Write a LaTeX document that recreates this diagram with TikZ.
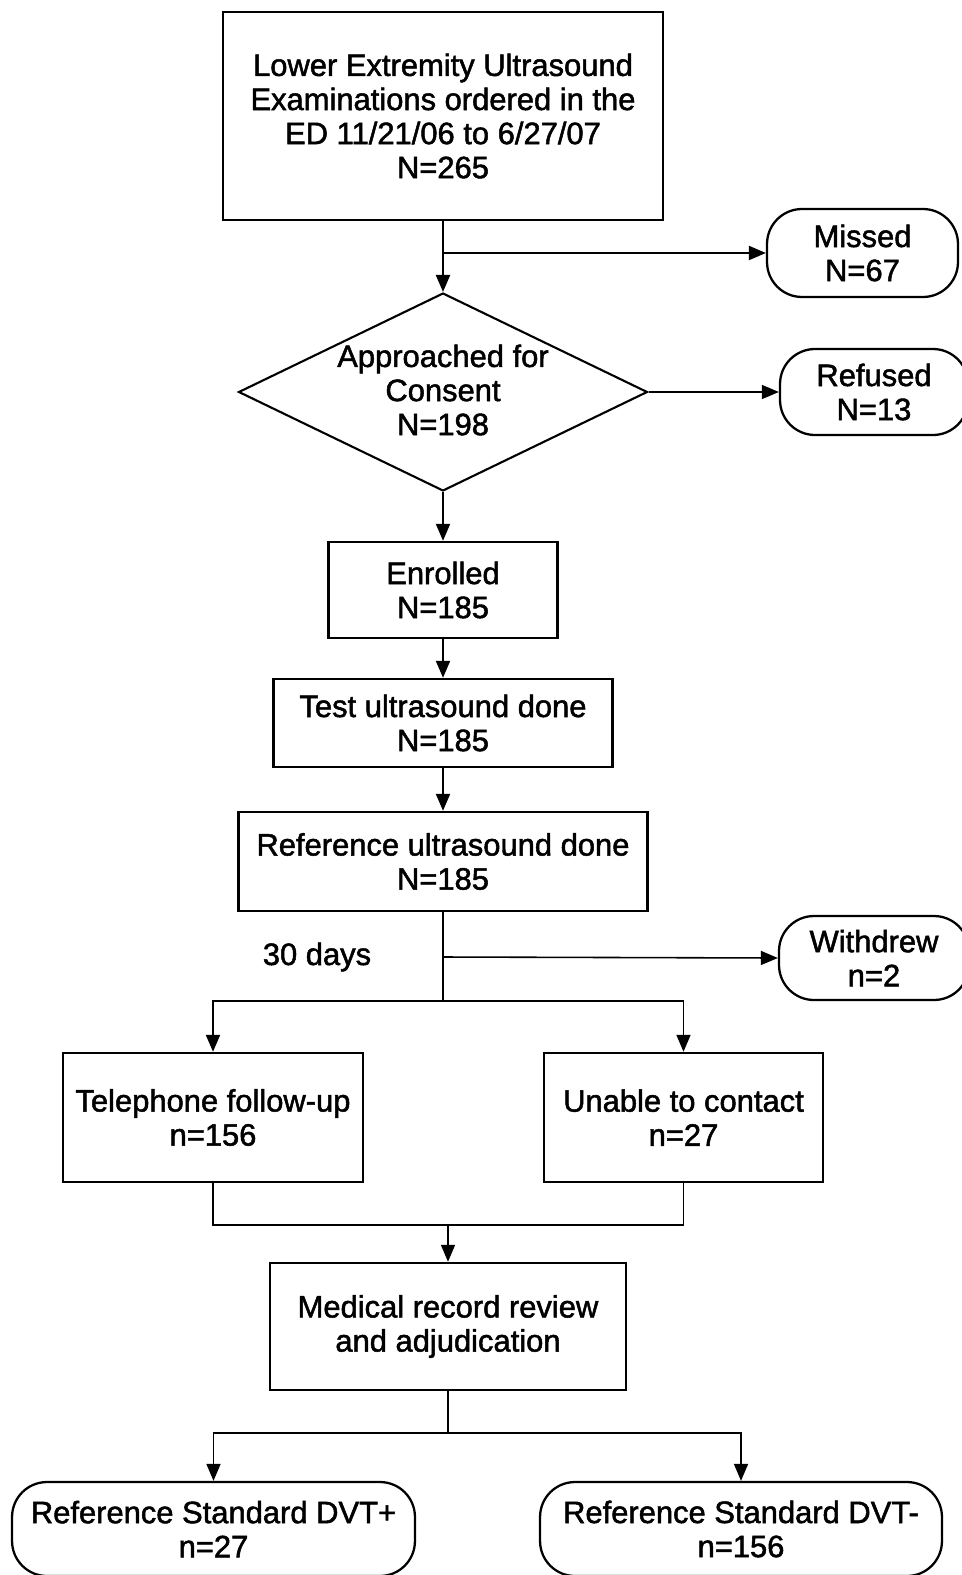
\documentclass[tikz,border=0pt]{standalone}
\usepackage{fontspec}
\setmainfont{Liberation Sans}[BoldFont=Liberation Sans, BoldFeatures={FakeBold=1.6}]
\usetikzlibrary{shapes.geometric,arrows.meta}
\begin{document}
\begin{tikzpicture}[x=0.02cm,y=-0.02cm,
  every node/.style={font=\fontsize{17.6pt}{19.4pt}\selectfont\bfseries, align=center, inner sep=0pt},
  box/.style={draw, line width=1.4pt, rectangle},
  rbox/.style={draw, line width=1.3pt, rectangle, rounded corners=0.7cm},
  conn/.style={line width=1.2pt},
  thinconn/.style={line width=0.9pt},
  tip/.style={-{Triangle[length=0.34cm,width=0.28cm]}},
  ]
\useasboundingbox (0,0) rectangle (962,1575);
\fill[white] (0,0) rectangle (962,1575);

\node[box, minimum width=8.8cm, minimum height=4.16cm] (b1) at (443,116)
  {Lower Extremity Ultrasound\\Examinations ordered in the\\ED 11/21/06 to 6/27/07\\N=265};
\node[rbox, minimum width=3.82cm, minimum height=1.76cm] (missed) at (862.5,253) {Missed\\N=67};
\node[draw, diamond, line width=1.2pt, minimum width=8.18cm, minimum height=3.96cm] (d) at (443,392) {};
\node (dtext) at (443,390) {Approached for\\Consent\\N=198};
\node[rbox, minimum width=3.76cm, minimum height=1.72cm] (refused) at (874,392) {Refused\\N=13};
\node[box, minimum width=4.58cm, minimum height=1.92cm] (enr) at (443,590) {Enrolled\\N=185};
\node[box, minimum width=6.78cm, minimum height=1.76cm] (test) at (443,723) {Test ultrasound done\\N=185};
\node[box, minimum width=8.18cm, minimum height=1.98cm] (ref) at (443,861.5) {Reference ultrasound done\\N=185};
\node (days) at (317,957) {30 days};
\node[rbox, minimum width=3.8cm, minimum height=1.68cm] (withdrew) at (874,958) {Withdrew\\n=2};
\node[box, minimum width=6cm, minimum height=2.58cm] (tel) at (213,1117.5) {Telephone follow-up\\n=156};
\node[box, minimum width=5.58cm, minimum height=2.58cm] (unable) at (683.5,1117.5) {Unable to contact\\n=27};
\node[box, minimum width=7.12cm, minimum height=2.54cm] (med) at (448,1326.5) {Medical record review\\and adjudication};
\node[rbox, minimum width=8.06cm, minimum height=1.88cm] (dvtp) at (213.5,1529) {Reference Standard DVT+\\n=27};
\node[rbox, minimum width=8.04cm, minimum height=1.88cm] (dvtm) at (741,1529) {Reference Standard DVT-\\n=156};

\coordinate (j1) at (b1.south |- missed.west);
\draw[conn] (b1.south) -- (j1);
\draw[conn, tip] (j1) -- (d.north);
\draw[conn, tip] (j1) -- (missed.west);
\draw[thinconn, tip] (d.east) -- (refused.west);
\draw[conn, tip] (d.south) -- (enr.north);
\draw[conn, tip] (enr.south) -- (test.north);
\draw[conn, tip] (test.south) -- (ref.north);

\coordinate (j2) at (443,1001);
\coordinate (jw) at (443,957);
\draw[conn] (ref.south) -- (j2);
\draw[thinconn, tip] (jw) -- (withdrew.west);
\draw[conn, tip] (j2) -| (tel.north);
\draw[thinconn, tip] (j2) -| (unable.north);

\coordinate (j3) at (448,1225);
\draw[thinconn] (tel.south) |- (j3) -| (unable.south);
\draw[thinconn, tip] (j3) -- (med.north);

\coordinate (j4) at (448,1433);
\draw[thinconn] (med.south) -- (j4);
\draw[thinconn, tip] (j4) -| (dvtp.north);
\draw[thinconn, tip] (j4) -| (dvtm.north);
\end{tikzpicture}
\end{document}
